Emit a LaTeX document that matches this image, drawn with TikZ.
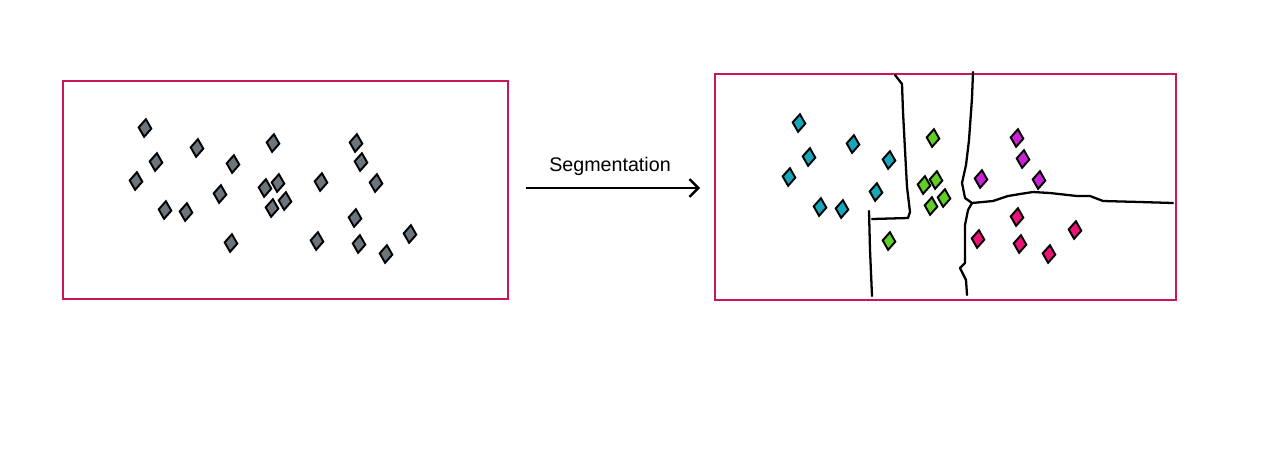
\documentclass[tikz,border=0pt]{standalone}
\usepackage{fontspec}
\setsansfont{Liberation Sans}
\usetikzlibrary{shapes.geometric,arrows.meta}

\definecolor{frame}{RGB}{200,22,92}
\definecolor{dotgray}{RGB}{108,116,124}
\definecolor{dotcyan}{RGB}{22,168,186}
\definecolor{dotgreen}{RGB}{98,206,38}
\definecolor{dotviolet}{RGB}{204,34,214}
\definecolor{dotpink}{RGB}{236,18,118}

\tikzset{
  framebox/.style={draw=frame, line width=1.2pt},
  gem/.style={diamond, draw=black, line width=1.1pt, fill=#1, inner sep=0pt,
    minimum width=0.27cm, minimum height=0.37cm, rotate=-6},
  border/.style={line width=1.3pt, line join=round, line cap=round}
}

\begin{document}
\begin{tikzpicture}[x=0.02cm, y=-0.02cm]
  \useasboundingbox (0,0) rectangle (1283,458);

  % boxes
  \draw[framebox] (63,81) rectangle (508,299);
  \draw[framebox] (715,74) rectangle (1176,300);

  % unlabelled points
  \foreach \x/\y [count=\i] in {145/128, 197/148, 273/143, 356/143, 156/162,
      233/164, 361/162, 136/181, 220/194, 265/188, 278/183, 321/182, 376/183,
      285/201, 272/208, 165/210, 186/212, 355/218, 231/243, 317/241, 359/244,
      386/254, 410/234}
    \node[gem=dotgray] (l\i) at (\x,\y) {};

  % segmented points
  \foreach \x/\y [count=\i] in {799/123, 853/144, 809/157, 889/160, 789/177,
      876/192, 820/207, 842/209}
    \node[gem=dotcyan] (c\i) at (\x,\y) {};
  \foreach \x/\y [count=\i] in {933/138, 936/180, 924/185, 944/198, 931/206,
      889/241}
    \node[gem=dotgreen] (g\i) at (\x,\y) {};
  \foreach \x/\y [count=\i] in {1017/138, 1023/159, 981/179, 1039/180}
    \node[gem=dotviolet] (v\i) at (\x,\y) {};
  \foreach \x/\y [count=\i] in {1017/217, 978/239, 1020/244, 1075/230,
      1049/254}
    \node[gem=dotpink] (p\i) at (\x,\y) {};

  % boundaries
  \draw[border] (895,75) -- (902,84) -- (903,112) -- (905,150) -- (907,187)
    -- (910,212) -- (908,218) -- (872,219);
  \draw[border] (869,211) -- (870,250) -- (872,296);
  \draw[border] (973,72) -- (972,98) -- (969,140) -- (966,165) -- (962,183)
    -- (965,198) -- (972,203) -- (968,210) -- (965,225) -- (965,263)
    -- (960,268) -- (966,280) -- (967,295);
  \draw[border] (972,203) -- (993,201) -- (1008,196) -- (1020,194)
    -- (1033,192) -- (1050,193) -- (1077,196) -- (1090,196) -- (1103,201)
    -- (1140,202) -- (1173,203);

  % arrow
  \node[font=\sffamily\fontsize{11.2}{13}\selectfont] (seg) at (610,166)
    {Segmentation};
  \coordinate (a0) at (526,188);
  \coordinate (a1) at (700,188);
  \draw[line width=1.4pt, -{Straight Barb[length=5pt, width=10pt]}] (a0) -- (a1);
\end{tikzpicture}
\end{document}
